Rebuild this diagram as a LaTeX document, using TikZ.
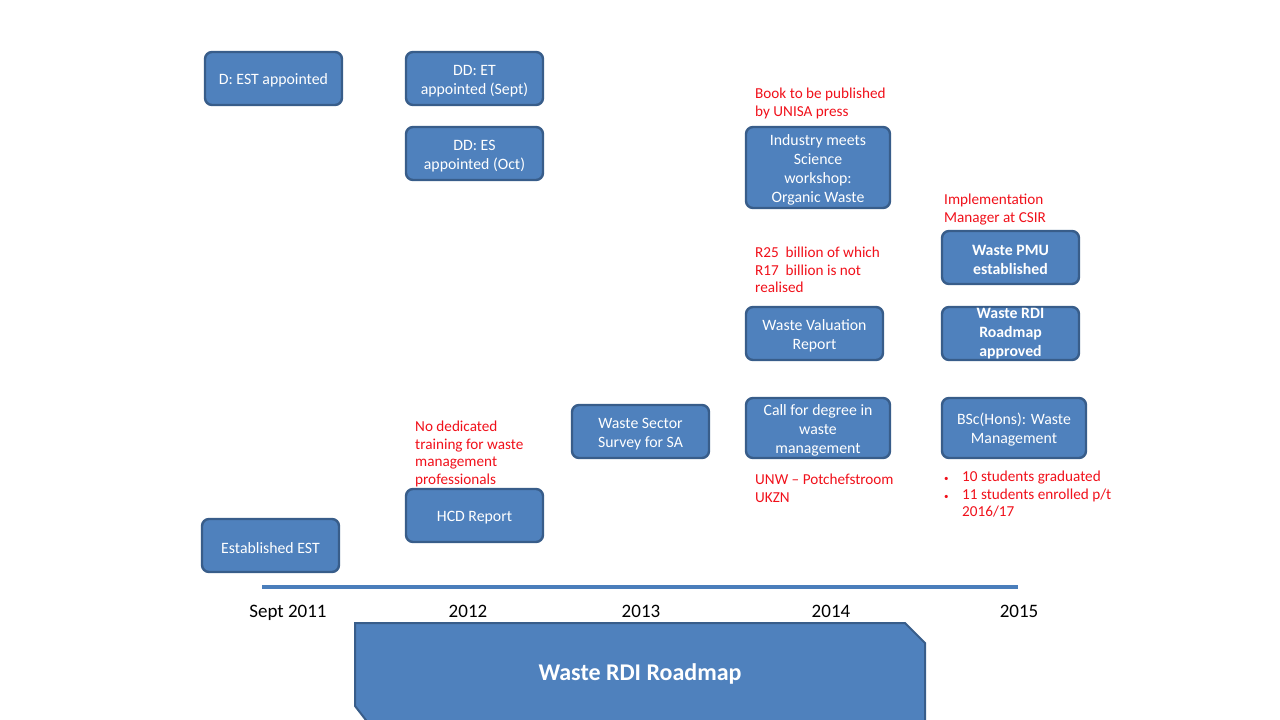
\documentclass[tikz,border=0pt]{standalone}
\usepackage{fontspec}
\setmainfont{Carlito}
\definecolor{boxfill}{HTML}{4F81BD}
\definecolor{boxline}{HTML}{385D8A}
\definecolor{axisblue}{HTML}{4A7EBB}
\definecolor{notered}{HTML}{F0101A}
\newcommand{\tstrut}{\rule{0pt}{15.5pt}}
\tikzset{
  evbox/.style={rounded corners=7pt, fill=boxfill, draw=boxline, line width=2.4pt,
    text=white, align=center, inner sep=1pt, minimum width=137pt, minimum height=53pt,
    font=\fontsize{15.8}{19.2}\selectfont},
  note/.style={anchor=north west, align=left, inner sep=0pt, text=notered,
    font=\fontsize{15.2}{17.6}\selectfont},
  yearlbl/.style={inner sep=0pt, anchor=base, font=\fontsize{19}{22}\selectfont},
}
\begin{document}
\begin{tikzpicture}[x=1pt,y=-1pt]
\useasboundingbox (0,0) rectangle (1280,720);
\clip (0,0) rectangle (1280,720);
% timeline axis
\coordinate (axl) at (262,587);
\coordinate (axr) at (1018,587);
\draw[axisblue, line width=3.5pt] (axl) -- (axr);
% year labels
\node[yearlbl] (y1) at (288,617) {Sept 2011};
\node[yearlbl] (y2) at (468,617) {2012};
\node[yearlbl] (y3) at (641,617) {2013};
\node[yearlbl] (y4) at (831,617) {2014};
\node[yearlbl] (y5) at (1019,617) {2015};
% roadmap banner
\draw[fill=boxfill, draw=boxline, line width=2pt]
  (355,623) -- (905,623) -- (925,643) -- (925,724) -- (369,724) -- (355,706) -- cycle;
\node[anchor=base, inner sep=0pt, text=white, font=\fontsize{24}{28}\selectfont\bfseries] (title) at (640,680) {Waste RDI Roadmap};
% event boxes
\node[evbox] (b1) at (273.5,78.5) {\tstrut D: EST appointed};
\node[evbox] (b2) at (474.5,78.5) {\tstrut DD: ET\\appointed (Sept)};
\node[evbox] (b3) at (474.5,153.5) {\tstrut DD: ES\\appointed (Oct)};
\node[evbox] (b4) at (474.5,515.5) {\tstrut HCD Report};
\node[evbox] (b5) at (270.5,545.5) {\tstrut Established EST};
\node[evbox] (b6) at (640.5,431.5) {\tstrut Waste Sector\\Survey for SA};
\node[evbox, minimum width=144pt, minimum height=81pt] (b7) at (818,167.5) {\tstrut Industry meets\\Science\\workshop:\\Organic Waste};
\node[evbox] (b8) at (814.5,333.5) {\tstrut Waste Valuation\\Report};
\node[evbox, minimum width=144pt, minimum height=60pt] (b9) at (818,428) {\tstrut Call for degree in\\waste\\management};
\node[evbox, font=\fontsize{15.8}{19.2}\selectfont\bfseries] (b10) at (1010.5,257.5) {\tstrut Waste PMU\\established};
\node[evbox, inner sep=0pt, font=\fontsize{15.8}{19}\selectfont\bfseries] (b11) at (1010.5,333.5) {Waste RDI\\Roadmap\\approved};
\node[evbox, minimum width=144pt, minimum height=60pt] (b12) at (1014,428) {\tstrut BSc(Hons): Waste\\Management};
% red notes
\node[note] (n1) at (755,88) {Book to be published\\by UNISA press};
\node[note] (n2) at (944,194) {Implementation\\Manager at CSIR};
\node[note] (n3) at (755,247) {R25\ \ billion of which\\R17\ \ billion is not\\realised};
\node[note] (n4) at (415,421) {No dedicated\\training for waste\\management\\professionals};
\node[note] (n5) at (755,474) {UNW -- Potchefstroom\\UKZN};
\node[note] (n6) at (944,469) {\begin{tabular}{@{}p{13pt}@{\hspace{5pt}}l@{}}
{\small\textbullet} & 10 students graduated\\
{\small\textbullet} & 11 students enrolled p/t\\
 & 2016/17
\end{tabular}};
\end{tikzpicture}
\end{document}
